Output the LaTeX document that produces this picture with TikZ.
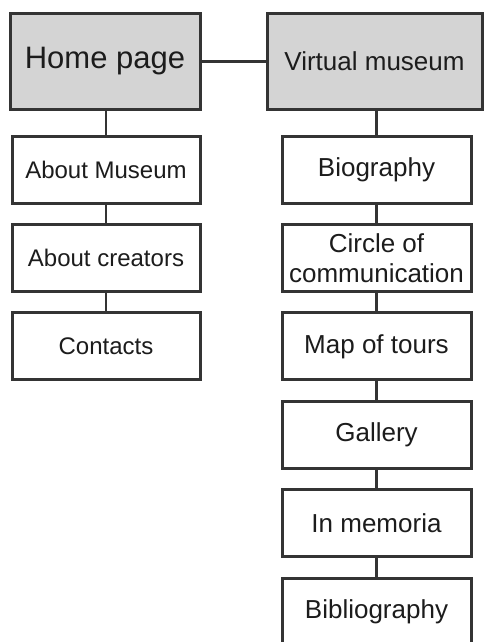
\documentclass[tikz,border=0pt]{standalone}
\usepackage{fontspec}
\setmainfont{Liberation Sans}
\usetikzlibrary{positioning}
\definecolor{box_line}{RGB}{52,52,52}
\definecolor{box_head}{RGB}{212,212,212}
\definecolor{box_text}{RGB}{28,28,28}

\begin{document}
\begin{tikzpicture}[x=1pt,y=-1pt]
    % Define box styles
    \tikzset{pagebox/.style={draw=box_line,line width=3pt,fill=white,text=box_text,inner sep=1pt,align=center,minimum height=67pt}}
    \tikzset{headbox/.style={pagebox,fill=box_head,minimum height=95pt}}
    \tikzset{link/.style={draw=box_line,line width=2.8pt}}

    \useasboundingbox (0,0) rectangle (484,642);
    \clip (0,0) rectangle (484,642); % Bottom box is cut off

    % Header boxes
    \node[headbox,minimum width=190pt,font=\fontsize{31}{36}\selectfont] (home) at (105,61.5) {Home page};
    \node[headbox,minimum width=215pt,font=\fontsize{26}{30}\selectfont] (virtual) at (374.5,61.5) {Virtual museum};
    \draw[link] (home.east) -- (virtual.west);

    \foreach \prev/\name/\label [count=\i] in {home/about/About Museum,about/creators/About creators,creators/contacts/Contacts}    % Left column
    {
        \pgfmathsetmacro{\y}{169.5+88.4*(\i-1)}
        \node[pagebox,minimum width=188pt,font=\fontsize{24}{28}\selectfont] (\name) at (106,\y) {\label};
        \draw[link] (\name.north) -- (\name.north |- \prev.south);
    }

    \foreach \prev/\name/\label [count=\i] in {virtual/bio/Biography,bio/circle/{Circle of\\communication},circle/tours/Map of tours,tours/gallery/Gallery,gallery/memoria/In memoria,memoria/biblio/Bibliography}    % Right column
    {
        \pgfmathsetmacro{\y}{169.5+88.4*(\i-1)}
        \node[pagebox,minimum width=189pt,font=\fontsize{26}{30}\selectfont] (\name) at (376.5,\y) {\label};
        \draw[link] (\name.north) -- (\name.north |- \prev.south);
    }
\end{tikzpicture}
\end{document}
